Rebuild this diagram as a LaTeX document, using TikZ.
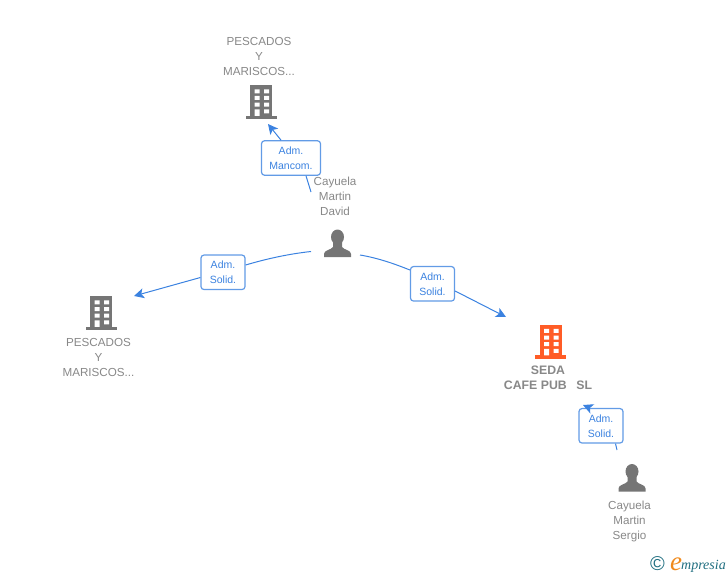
\documentclass[tikz,border=0pt]{standalone}
\usepackage{fontspec}
\setmainfont{Liberation Sans}
\newfontfamily\logofont{Liberation Serif}
\definecolor{txtgrey}{HTML}{888888}
\definecolor{icongrey}{HTML}{757575}
\definecolor{linkblue}{HTML}{3B82E0}
\definecolor{orangeicon}{HTML}{FF5C26}
\definecolor{logoteal}{HTML}{1F6E80}
\definecolor{logoorange}{HTML}{F08A1D}
\usetikzlibrary{arrows.meta}
\tikzset{
  x=1pt,y=-1pt,
  lbl/.style={text=txtgrey,font=\fontsize{11.65}{15}\selectfont,align=center,inner sep=0pt},
  lblbold/.style={lbl,font=\fontsize{12.3}{15}\selectfont\bfseries},
  role/.style={draw=linkblue!80!white,line width=1.2pt,rounded corners=3pt,fill=white,text=linkblue,
    font=\fontsize{10.5}{15}\selectfont,align=center,inner sep=0pt,minimum height=34.5pt},
  link/.style={draw=linkblue,line width=1pt},
  linkarrow/.style={link,-{Stealth[length=10pt,width=10pt,inset=2.5pt]}},
  pics/building/.style={code={
    \fill[#1] (-11,0) rectangle (11,33);
    \fill[#1] (-15.5,30.8) rectangle (15.5,34);
    \fill[white] (-6.5,4.3) rectangle (-1.5,8.3) (3,4.3) rectangle (8,8.3)
      (-6.5,11) rectangle (-1.5,15) (3,11) rectangle (8,15)
      (-6.5,17.7) rectangle (-1.5,21.7) (3,17.7) rectangle (8,21.7)
      (-6.5,24.3) rectangle (-1.5,30.8) (3,24.3) rectangle (8,28.3);
  }},
  pics/person/.style={code={
    \fill[icongrey] (0,-20) ellipse (6.5 and 7.5);
    \fill[icongrey] (-13.5,0) -- (-13.5,-3) .. controls (-13.5,-7) and (-6.5,-7) .. (-4.5,-10)
      -- (-4.5,-15) -- (4.5,-15) -- (4.5,-10) .. controls (6.5,-7) and (13.5,-7) .. (13.5,-3) -- (13.5,0) -- cycle;
  }}
}
\begin{document}
\begin{tikzpicture}
\useasboundingbox (0,0) rectangle (728,575);
% icons
\pic at (261,85) {building={icongrey}};
\pic at (101,296) {building={icongrey}};
\pic at (550.5,324.5) {building={orangeicon}};
\pic at (337.5,257) {person};
\pic at (632,491.5) {person};
% text
\node[lbl] (top) at (259,56.3) {PESCADOS\\Y\\MARISCOS...};
\node[lbl] (left) at (98.5,357.3) {PESCADOS\\Y\\MARISCOS...};
\node[lblbold] (seda) at (548,377.6) {SEDA\\CAFE PUB\hspace{9.5pt}SL};
\node[lbl] (david) at (335,196.3) {Cayuela\\Martin\\David};
\node[lbl] (sergio) at (629.5,521.3) {Cayuela\\Martin\\Sergio};
% role boxes
\node[role,minimum width=59pt] (r1) at (291,158) {Adm.\\Mancom.};
\node[role,minimum width=44pt] (r2) at (223,272.3) {Adm.\\Solid.};
\node[role,minimum width=44pt] (r3) at (432.5,283.8) {Adm.\\Solid.};
\node[role,minimum width=44pt] (r4) at (601,425.8) {Adm.\\Solid.};
% free ends
\coordinate (d1) at (311,192);
\coordinate (d2) at (311,251.5);
\coordinate (d3) at (360,255);
\coordinate (s1) at (617,450);
\coordinate (t1) at (268,124);
\coordinate (t2) at (134,296);
\coordinate (t3) at (506,317);
\coordinate (t4) at (583,405);
% connectors
\draw[link] (d1) -- (r1.south -| 306,0);
\draw[linkarrow] (r1.north -| 281,0) -- (t1);
\draw[link] (d2) .. controls (288,254) and (266,259) .. (r2.east |- 0,265);
\draw[linkarrow] (r2.west |- 0,277.5) -- (t2);
\draw[link] (d3) .. controls (378,258) and (395,264) .. (r3.west |- 0,270);
\draw[linkarrow] (r3.east |- 0,291) -- (t3);
\draw[link] (s1) -- (r4.south -| 615.5,0);
\draw[linkarrow] (r4.north -| 590,0) -- (t4);
% logo
\node[inner sep=0pt,text=logoteal,font=\fontsize{20}{20}\selectfont] (copy) at (657.5,564) {©};
\node[inner sep=0pt,anchor=base west,text=logoorange,font=\logofont\itshape\fontsize{27}{27}\selectfont] (elogo) at (670,570) {e};
\node[inner sep=0pt,anchor=base west,text=logoteal,font=\logofont\itshape\fontsize{14}{14}\selectfont] (mlogo) at (681,569) {mpresia};
\end{tikzpicture}
\end{document}
